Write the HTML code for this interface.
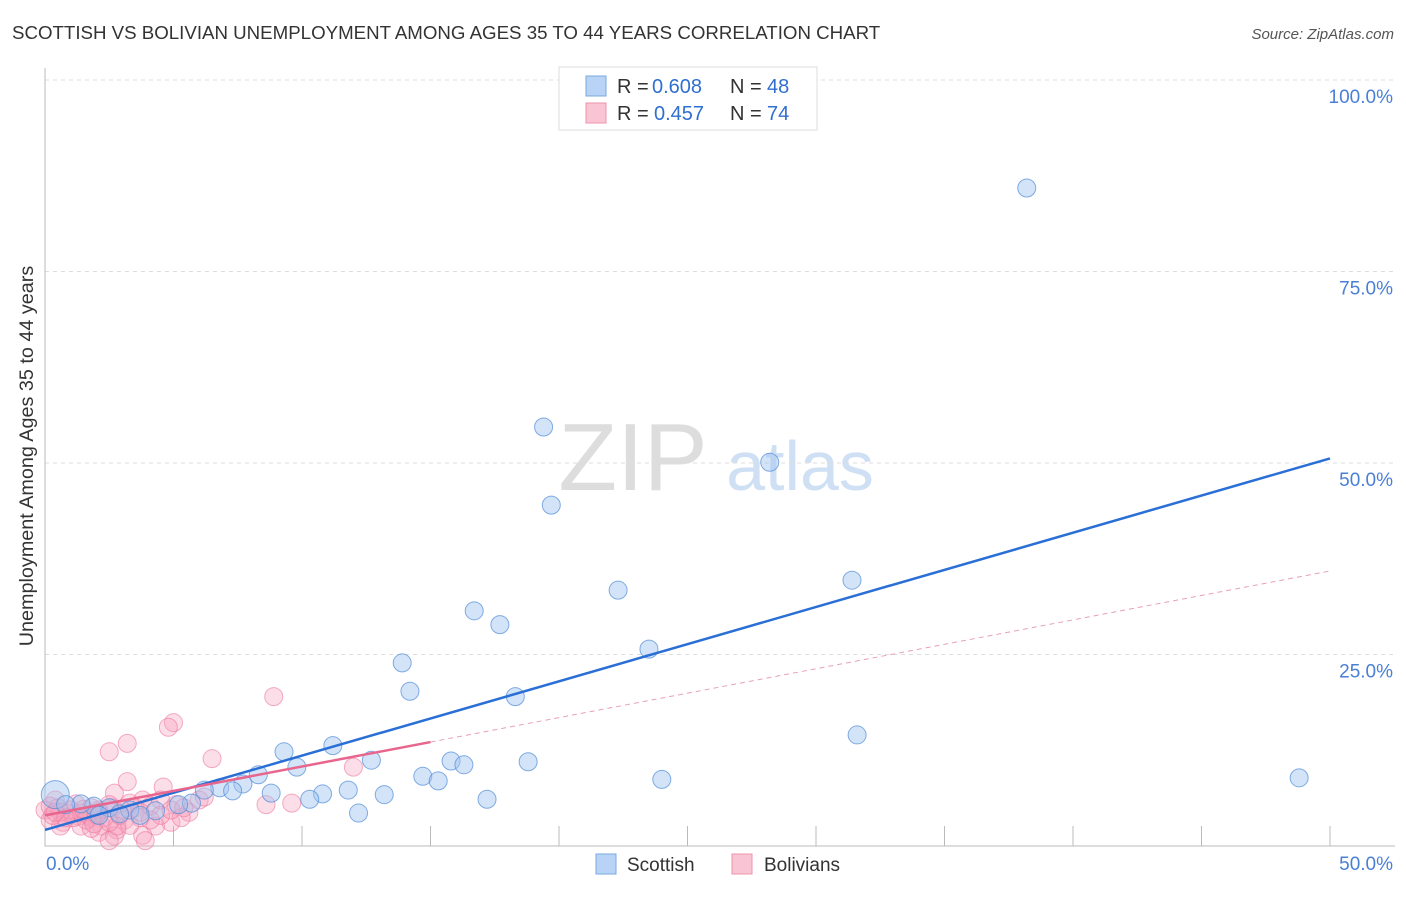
<!DOCTYPE html>
<html><head><meta charset="utf-8"><style>
body{margin:0;background:#fff;font-family:"Liberation Sans",sans-serif}
svg text{font-family:"Liberation Sans",sans-serif}
</style></head><body>
<svg id="c" width="1406" height="892">
<text x="12" y="39" font-size="18.7" fill="#333">SCOTTISH VS BOLIVIAN UNEMPLOYMENT AMONG AGES 35 TO 44 YEARS CORRELATION CHART</text>
<text x="1394" y="39" font-size="15" fill="#555" font-style="italic" text-anchor="end">Source: ZipAtlas.com</text>
<text x="633" y="490" font-size="96" fill="#ddd" font-family="Liberation Serif" text-anchor="middle">ZIP</text>
<text x="800" y="490" font-size="70" fill="#cfe0f5" text-anchor="middle">atlas</text>
<text transform="translate(33,456) rotate(-90)" font-size="19.8" fill="#333" text-anchor="middle">Unemployment Among Ages 35 to 44 years</text>
<g id="grid"></g><g id="pts"></g><g id="lines"></g>
<g>
<rect x="559" y="67" width="258" height="63" fill="#fff" stroke="#ddd"/>
<rect x="586" y="76" width="20" height="20" fill="#b8d3f5" stroke="#7aa8e0"/>
<rect x="586" y="103" width="20" height="20" fill="#f9c4d4" stroke="#ee93ae"/>
<text x="617" y="93" font-size="20" fill="#333">R =</text>
<text x="652" y="93" font-size="20" fill="#2f6fd0">0.608</text>
<text x="730" y="93" font-size="20" fill="#333">N =</text>
<text x="767" y="93" font-size="20" fill="#2f6fd0">48</text>
<text x="617" y="120" font-size="20" fill="#333">R =</text>
<text x="654" y="120" font-size="20" fill="#2f6fd0">0.457</text>
<text x="730" y="120" font-size="20" fill="#333">N =</text>
<text x="767" y="120" font-size="20" fill="#2f6fd0">74</text>
</g>
<g>
<rect x="596" y="854" width="20" height="20" fill="#b8d3f5" stroke="#7aa8e0"/>
<text x="627" y="871" font-size="19" fill="#333">Scottish</text>
<rect x="732" y="854" width="20" height="20" fill="#f9c4d4" stroke="#ee93ae"/>
<text x="764" y="871" font-size="19" fill="#333">Bolivians</text>
</g>
</svg>
<script>
const yTicks=[25,50,75,100];
const yTickLabels=["25.0%","50.0%","75.0%","100.0%"];
const xTickLabels=["0.0%","50.0%"];
const scotX=[38.2,19.4,28.2,19.7,22.3,31.4,16.7,17.7,23.5,13.9,14.2,18.3,31.6,9.3,11.2,12.7,9.8,15.8,16.3,18.8,14.7,15.3,24.0,48.8,8.3,7.7,8.8,10.8,11.8,13.2,10.3,17.2,12.2,6.8,7.3,6.2,5.7,5.2,4.3,3.3,2.5,1.9,1.4,0.4,0.8,3.7,2.9,2.1];
const scotY=[85.9,54.7,50.1,44.5,33.4,34.7,30.7,28.9,25.7,23.9,20.2,19.5,14.5,12.3,13.1,11.2,10.3,11.1,10.6,11.0,9.1,8.5,8.7,8.9,9.3,8.1,6.9,6.8,7.3,6.7,6.1,6.1,4.3,7.6,7.2,7.3,5.6,5.4,4.6,4.7,5.0,5.2,5.5,6.7,5.4,4.0,4.2,4.0];
const bolX=[8.9,5.0,4.8,3.2,2.5,6.5,12.0,3.2,4.6,2.7,8.6,9.6,3.8,6.0,6.2,5.6,0.4,1.2,3.3,4.1,2.3,3.1,3.5,4.5,5.1,0,0.7,1.3,1.7,2.1,2.6,3.0,3.7,4.3,4.9,1.4,0.9,0.5,1.1,1.8,2.2,2.8,0.2,0.6,2.1,2.7,3.8,2.5,3.9,2.8,1.8,2.5,1.8,1.0,0.2,0.6,1.4,2.1,2.9,3.7,4.5,5.3,0.3,0.8,1.6,1.9,2.5,3.3,4.1,4.9,5.4,1.5,2.0,0.4];
const bolY=[19.5,16.1,15.5,13.4,12.3,11.4,10.3,8.4,7.7,6.9,5.4,5.6,6.0,6.0,6.4,4.4,6.0,5.5,5.6,5.2,3.7,3.4,5.0,6.0,5.4,4.7,3.1,3.9,4.0,4.7,5.0,4.7,3.7,2.6,3.1,2.6,4.3,5.0,3.7,3.7,2.6,2.1,3.4,2.6,1.8,1.3,1.4,0.7,0.7,2.6,2.3,5.4,5.0,4.7,5.2,4.4,4.3,4.4,4.0,4.4,4.0,3.7,4.0,3.7,3.4,2.9,3.1,2.7,3.4,4.7,5.0,4.8,4.1,4.4];
const blueLine=[2.1,50.6], pinkLine=[4.0,35.9];
const ns="http://www.w3.org/2000/svg";
const X=v=>45+v*25.7, Y=v=>846-v*7.66;
function mk(t,a,p){const e=document.createElementNS(ns,t);for(const k in a)e.setAttribute(k,a[k]);document.getElementById(p).appendChild(e);return e;}
yTicks.forEach((t,i)=>{
 const g=mk('line',{x1:45,x2:1395,y1:Y(t),y2:Y(t),stroke:'#ddd','stroke-dasharray':'4,4'},'grid');
 
 
 const l=mk('text',{x:1393,y:Y(t)+23,'font-size':19,fill:'#4a7fd6','text-anchor':'end'},'grid');
 l.textContent=yTickLabels[i];
 
 
});
const ax=mk('path',{d:'M45,68V846H1395',stroke:'#bbb',fill:'none'},'grid');


for(let i=1;i<=10;i++){const t=mk('line',{x1:X(i*5),x2:X(i*5),y1:826,y2:846,stroke:'#bbb'},'grid');
 
 }
[[0,'start',46],[50,'end',1393]].forEach((d,i)=>{const l=mk('text',{x:d[2],y:870,'font-size':19,fill:'#4a7fd6','text-anchor':d[1]},'grid');l.textContent=xTickLabels[i];
 
 });
bolX.forEach((x,i)=>{const c=mk('circle',{cx:X(x),cy:Y(bolY[i]),r:9,fill:'rgba(246,160,188,0.35)',stroke:'rgba(236,120,156,0.6)'},'pts');
 
 });
scotX.forEach((x,i)=>{const c=mk('circle',{cx:X(x),cy:Y(scotY[i]),r:i==43?14:9,fill:'rgba(160,196,240,0.45)',stroke:'rgba(80,140,215,0.7)'},'pts');
 
 });
let l1=mk('line',{x1:X(0),y1:Y(blueLine[0]),x2:X(50),y2:Y(blueLine[1]),stroke:'#2a6fd6','stroke-width':2.5},'lines');


const py=x=>pinkLine[0]+(pinkLine[1]-pinkLine[0])*x/50;
let l2=mk('line',{x1:X(0),y1:Y(py(0)),x2:X(15),y2:Y(py(15)),stroke:'#e8668e','stroke-width':2.5},'lines');


let l3=mk('line',{x1:X(15),y1:Y(py(15)),x2:X(50),y2:Y(py(50)),stroke:'#e8a0b8','stroke-width':1,'stroke-dasharray':'5,4'},'lines');


</script>
</body></html>
